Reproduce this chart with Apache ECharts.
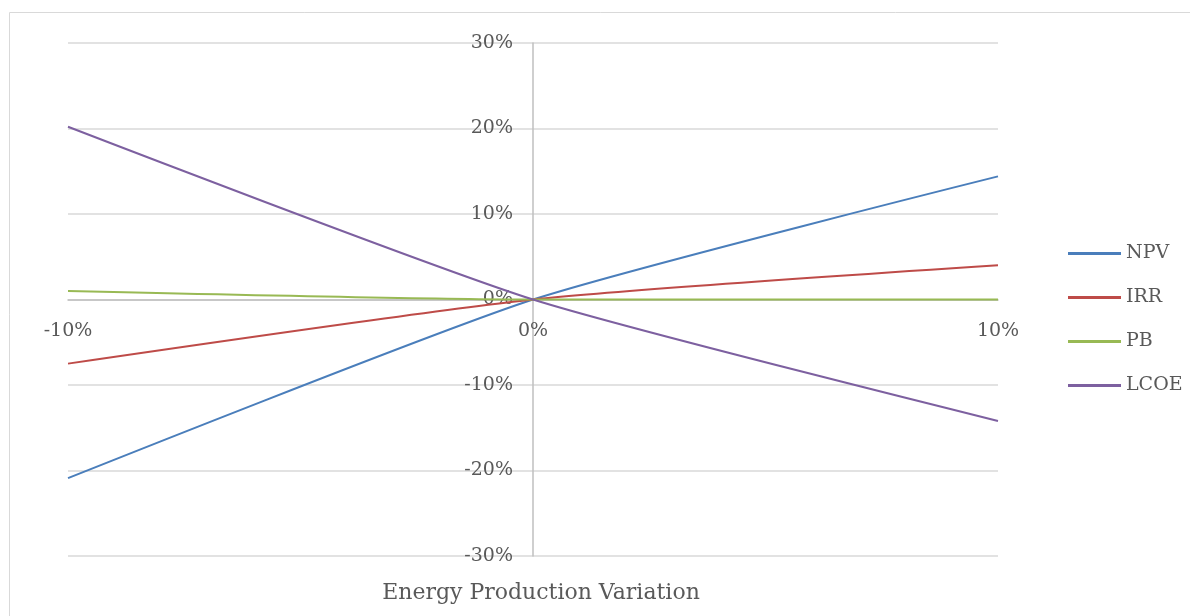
<!DOCTYPE html>
<html><head><meta charset="utf-8">
<script src="https://cdn.jsdelivr.net/npm/echarts@6/dist/echarts.min.js"></script>
<style>html,body{margin:0;padding:0;background:#fff}#c{width:1190px;height:616px}</style>
</head><body><div id="c"></div>
<script>
const xValues = [-0.10, 0.00, 0.10];
const npv  = [-0.209, 0.000, 0.144];
const irr  = [-0.075, 0.000, 0.040];
const pb   = [0.010, 0.000, 0.000];
const lcoe = [0.202, 0.000, -0.142];
const seriesNames = ['NPV', 'IRR', 'PB', 'LCOE'];
const colors = ['#4a7ebb', '#be4b48', '#98b954', '#7d60a0'];
const FONT = 'DejaVu Serif';
const pct = v => Math.round(v * 100) + '%';
const pair = arr => xValues.map((x, i) => [x, arr[i]]);
const chart = echarts.init(document.getElementById('c'));
chart.setOption({
  animation: false,
  textStyle: { fontFamily: FONT },
  title: {
    text: 'Energy Production Variation', left: 536, top: 577, textAlign: 'center',
    textStyle: { color: '#595959', fontSize: 22, fontWeight: 'normal', fontFamily: FONT }
  },
  graphic: [{ type: 'rect', shape: { x: 9.5, y: 12.5, width: 1300, height: 800 }, style: { fill: 'none', stroke: '#d9d9d9', lineWidth: 1 }, silent: true }],
  grid: { left: 68, right: 192, top: 43, bottom: 60, outerBoundsMode: 'none', containLabel: false },
  xAxis: {
    type: 'value', min: -0.1, max: 0.1, interval: 0.1,
    position: 'bottom', offset: -256.5,
    axisLine: { onZero: false, lineStyle: { color: '#bfbfbf', width: 1.5 } },
    axisTick: { show: false },
    axisLabel: { formatter: pct, color: '#595959', fontSize: 19, fontFamily: FONT, margin: 22 },
    splitLine: { show: false }
  },
  yAxis: {
    type: 'value', min: -0.3, max: 0.3, interval: 0.1,
    position: 'left', offset: -465,
    axisLine: { show: true, onZero: false, lineStyle: { color: '#bfbfbf', width: 1.5 } },
    axisTick: { show: false },
    axisLabel: { formatter: pct, color: '#595959', fontSize: 19, fontFamily: FONT, margin: 20, padding: [4, 0, 0, 0] },
    splitLine: { lineStyle: { color: '#d9d9d9', width: 1.5 } }
  },
  legend: {
    orient: 'vertical', left: 1063, top: 239, itemGap: 25,
    icon: 'rect', itemWidth: 53, itemHeight: 3,
    textStyle: { color: '#595959', fontSize: 19, fontFamily: FONT },
    data: seriesNames
  },
  series: [npv, irr, pb, lcoe].map((d, i) => ({
    name: seriesNames[i], type: 'line', data: pair(d), symbol: 'none', smooth: 0.2,
    lineStyle: { color: colors[i], width: 2 }, itemStyle: { color: colors[i] }
  }))
});
</script></body></html>
